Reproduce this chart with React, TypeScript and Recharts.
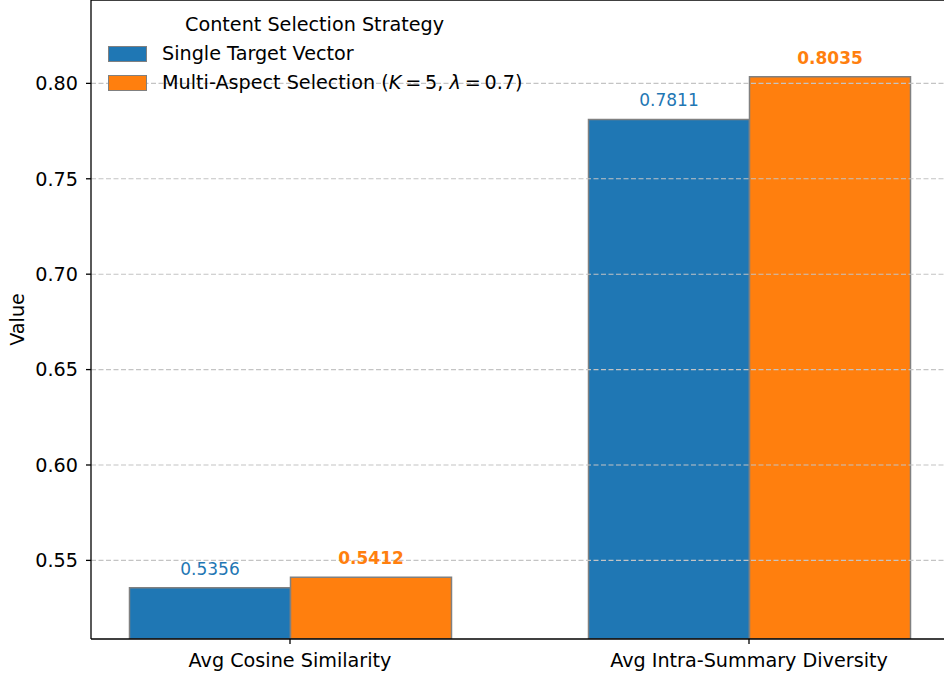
import React from 'react';
import { BarChart, Bar, XAxis, YAxis, ReferenceLine, LabelList } from 'recharts';

// categories and values
const categories = ['Avg Cosine Similarity', 'Avg Intra-Summary Diversity'];
const singleTarget = [0.5356, 0.7811];
const multiAspect = [0.5412, 0.8035];
const yTicks = [0.55, 0.6, 0.65, 0.7, 0.75, 0.8];
const yDomain = [0.5088, 0.8437];

const BLUE = '#1f77b4';
const ORANGE = '#ff7f0e';
const FONT = '"DejaVu Sans", Verdana, sans-serif';
const FS = 19.2;

const data = categories.map((name, i) => ({
  name,
  single: singleTarget[i],
  multi: multiAspect[i],
}));

// legend drawn as an overlay so it does not eat plot space
function LegendBox() {
  const patch = (color: string) => (
    <span
      style={{
        display: 'inline-block',
        width: 37,
        height: 14,
        background: color,
        border: '1.3px solid #808080',
        marginRight: 15,
      }}
    />
  );
  return (
    <div
      style={{
        position: 'absolute',
        left: 108,
        top: 10,
        fontFamily: FONT,
        fontSize: FS,
        color: '#000',
        lineHeight: '29px',
        whiteSpace: 'nowrap',
      }}
    >
      <div style={{ paddingLeft: 77 }}>Content Selection Strategy</div>
      <div style={{ display: 'flex', alignItems: 'center' }}>
        {patch(BLUE)}
        <span>Single Target Vector</span>
      </div>
      <div style={{ display: 'flex', alignItems: 'center' }}>
        {patch(ORANGE)}
        <span>
          Multi-Aspect Selection (<i>K</i>{'\u2009=\u2009'}5, <i>λ</i>{'\u2009=\u2009'}0.7)
        </span>
      </div>
    </div>
  );
}

function YLabel(props: any) {
  const vb = props.viewBox || { x: 0, y: 0, width: 0, height: 0 };
  const cx = 17;
  const cy = vb.y + vb.height / 2;
  return (
    <text
      x={cx}
      y={cy}
      transform={`rotate(-90 ${cx} ${cy})`}
      textAnchor="middle"
      dominantBaseline="central"
      fontSize={FS}
      fontFamily={FONT}
      fill="#000"
    >
      Value
    </text>
  );
}

export default function App() {
  return (
    <div style={{ position: 'absolute', left: 0, top: 0, width: 944, height: 677, overflow: 'hidden', background: '#fff' }}>
      <BarChart
        width={960}
        height={677}
        data={data}
        margin={{ top: 0, right: 11, bottom: 0, left: 0 }}
        barCategoryGap={69}
        barGap={0}
      >
        <XAxis
          dataKey="name"
          padding={{ left: -30.5, right: -29.5 }}
          height={38}
          tickSize={5}
          tickMargin={9}
          axisLine={{ stroke: '#000', strokeWidth: 1.3 }}
          tickLine={{ stroke: '#000', strokeWidth: 1.3 }}
          tick={{ fill: '#000', fontSize: FS, fontFamily: FONT }}
        />
        <YAxis
          width={91}
          domain={yDomain}
          ticks={yTicks}
          allowDataOverflow
          tickFormatter={(v: number) => v.toFixed(2)}
          tickSize={5}
          tickMargin={8}
          axisLine={{ stroke: '#000', strokeWidth: 1.3 }}
          tickLine={{ stroke: '#000', strokeWidth: 1.3 }}
          tick={{ fill: '#000', fontSize: FS, fontFamily: FONT }}
          label={<YLabel />}
        />
        <Bar dataKey="single" fill={BLUE} stroke="#808080" strokeWidth={1.5} isAnimationActive={false}>
          <LabelList
            dataKey="single"
            position="top"
            offset={13}
            formatter={(v: any) => Number(v).toFixed(4)}
            style={{ fill: BLUE, fontSize: 17, fontFamily: FONT }}
          />
        </Bar>
        <Bar dataKey="multi" fill={ORANGE} stroke="#808080" strokeWidth={1.5} isAnimationActive={false}>
          <LabelList
            dataKey="multi"
            position="top"
            offset={13}
            formatter={(v: any) => Number(v).toFixed(4)}
            style={{ fill: ORANGE, fontSize: 17, fontFamily: FONT, fontWeight: 'bold' }}
          />
        </Bar>
        {yTicks.map((t) => (
          <ReferenceLine key={t} y={t} stroke="#c4c4c4" strokeWidth={1.1} strokeDasharray="5 2.5" />
        ))}
        <ReferenceLine y={yDomain[1]} stroke="#000" strokeWidth={1.6} />
      </BarChart>
      <LegendBox />
    </div>
  );
}
